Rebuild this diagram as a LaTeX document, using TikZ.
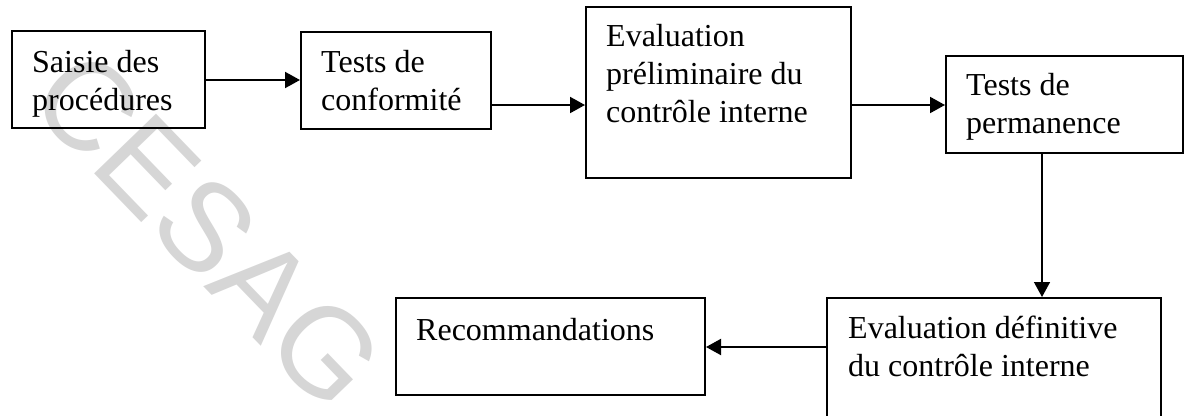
\documentclass[tikz,border=0pt]{standalone}
\usepackage{fontspec}
\setmainfont{Liberation Serif}
\newfontfamily\wmfont{Liberation Sans}
\usetikzlibrary{arrows.meta}
\definecolor{wmgray}{RGB}{214,214,214}
\newcommand{\stack}[1]{\vtop{\baselineskip=38pt\lineskiplimit=-100pt\halign{##\hfil\cr#1\crcr}}}
\begin{document}
\begin{tikzpicture}[x=1pt,y=-1pt,
  box/.style={draw, line width=2pt, rectangle, inner sep=0pt},
  lbl/.style={anchor=base west, inner sep=0pt, font=\fontsize{32}{38}\selectfont},
  arr/.style={line width=2pt, -{Triangle[length=15pt,width=16pt]}},
  varr/.style={line width=1.5pt, -{Triangle[length=15pt,width=16pt]}}]
\useasboundingbox (0,0) rectangle (1185,415);
\clip (0,0) rectangle (1185,415);
\fill[white] (0,0) rectangle (1185,415);

% watermark
\node[text=wmgray, rotate=-46, anchor=west, inner sep=0pt, font=\wmfont\fontsize{125}{125}\selectfont]
  (wm) at (56,72) {CESAG};

% boxes
\node[box, minimum width=193pt, minimum height=97pt]  (b1) at (108.5,79.5) {};
\node[box, minimum width=190pt, minimum height=97pt]  (b2) at (396,80.5) {};
\node[box, minimum width=265pt, minimum height=171pt] (b3) at (718.5,92.5) {};
\node[box, minimum width=237pt, minimum height=97pt]  (b4) at (1064.5,104.5) {};
\node[box, minimum width=334pt, minimum height=132pt] (b5) at (994,364) {};
\node[box, minimum width=309pt, minimum height=97pt]  (b6) at (550.5,346.5) {};

% labels
\node[lbl] (t1) at (32,72)  {\stack{Saisie des\cr procédures}};
\node[lbl] (t2) at (321,72) {\stack{Tests de\cr conformité}};
\node[lbl] (t3) at (606,46) {\stack{Evaluation\cr préliminaire du\cr contrôle interne}};
\node[lbl] (t4) at (966,95) {\stack{Tests de\cr permanence}};
\node[lbl] (t5) at (848,338) {\stack{Evaluation définitive\cr du contrôle interne}};
\node[lbl] (t6) at (416,340) {Recommandations};

% connectors
\draw[arr] (b1.east |- 0,80) -- (b2.west |- 0,80);
\draw[arr] (b2.east |- 0,105) -- (b3.west |- 0,105);
\draw[arr] (b3.east |- 0,105) -- (b4.west |- 0,105);
\draw[varr] (b4.south -| 1042,0) -- (b5.north -| 1042,0);
\draw[arr] (b5.west |- 0,347) -- (b6.east |- 0,347);
\end{tikzpicture}
\end{document}
